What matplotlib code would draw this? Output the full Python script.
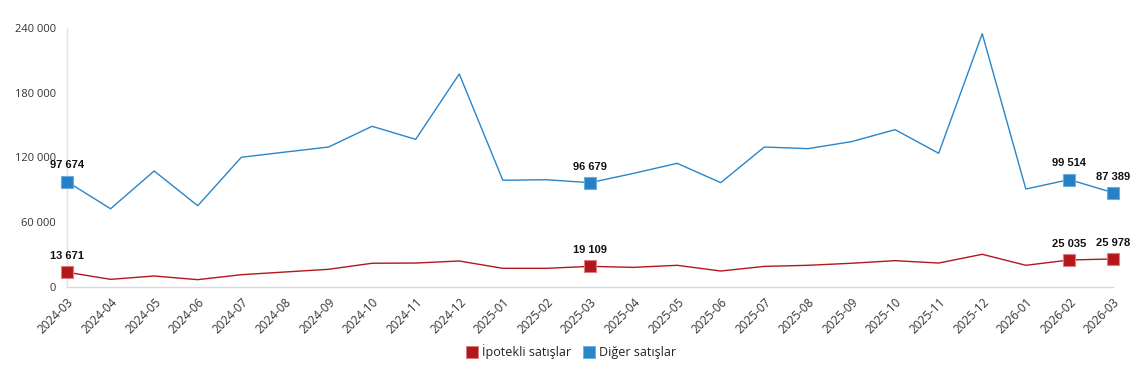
import numpy as np
import matplotlib
matplotlib.use("Agg")
import matplotlib.pyplot as plt
from matplotlib.lines import Line2D
from matplotlib.ticker import FuncFormatter

months = ["2024-03", "2024-04", "2024-05", "2024-06", "2024-07", "2024-08", "2024-09",
          "2024-10", "2024-11", "2024-12", "2025-01", "2025-02", "2025-03", "2025-04",
          "2025-05", "2025-06", "2025-07", "2025-08", "2025-09", "2025-10", "2025-11",
          "2025-12", "2026-01", "2026-02", "2026-03"]

# ipotekli satislar
ipotekli = [13671, 7100, 10200, 6800, 11400, 13900, 16400, 22000, 22200, 24100, 17300,
            17300, 19109, 18200, 20100, 14800, 19100, 20100, 22000, 24400, 22200, 30300,
            20100, 25035, 25978]
# diger satislar
diger = [97674, 72500, 107500, 75300, 120200, 125000, 129700, 148900, 136800, 197400,
         98900, 99400, 96679, 105300, 114600, 96700, 129700, 128200, 134700, 145800,
         123900, 234700, 90800, 99514, 87389]

labeled = [0, 12, 23, 24]

red = "#b3171b"
blue = "#2a85c9"

fig = plt.figure(figsize=(11.42, 3.83), dpi=100)
ax = fig.add_axes([67 / 1142, 1 - 287 / 383, (1113 - 67) / 1142, (287 - 28) / 383])

x = np.arange(len(months))
ax.plot(x, diger, color=blue, lw=1.0, marker="s", markevery=labeled, ms=9,
        mfc="#2580c5", mec="#6aaee0", mew=0.8, clip_on=False, zorder=3)
ax.plot(x, ipotekli, color=red, lw=1.0, marker="s", markevery=labeled, ms=9,
        mfc="#b3171b", mec="#dc7f80", mew=0.8, clip_on=False, zorder=3)

def fmt(v):
    return f"{int(v):,}".replace(",", " ")

for i in labeled:
    for s in (diger, ipotekli):
        ax.annotate(fmt(s[i]), (x[i], s[i]), xytext=(0, 8), textcoords="offset points",
                    ha="center", va="bottom", fontsize=8, fontweight="bold",
                    family="Liberation Sans", color="#111111")

ax.set_xlim(0, len(months) - 1)
ax.set_ylim(0, 240000)
ax.set_yticks([0, 60000, 120000, 180000, 240000])
ax.yaxis.set_major_formatter(FuncFormatter(lambda v, p: fmt(v)))
ax.set_xticks(x)
ax.set_xticklabels(months, rotation=45, ha="right", rotation_mode="anchor")

for lab in ax.get_yticklabels():
    lab.set_family("Open Sans")
    lab.set_fontsize(8)
    lab.set_color("#333333")
for lab in ax.get_xticklabels():
    lab.set_family("Open Sans")
    lab.set_fontsize(8.5)
    lab.set_color("#333333")

ax.tick_params(axis="y", length=0, pad=8)
ax.tick_params(axis="x", length=0, pad=6)
ax.spines["top"].set_visible(False)
ax.spines["right"].set_visible(False)
ax.spines["left"].set_color("#e3e3ef")
ax.spines["bottom"].set_color("#d9d9d9")
ax.spines["left"].set_linewidth(1)
ax.spines["bottom"].set_linewidth(1)

handles = [
    Line2D([], [], ls="none", marker="s", ms=9, mfc=red, mec="#d87a7c", mew=0.6, label="İpotekli satışlar"),
    Line2D([], [], ls="none", marker="s", ms=9, mfc=blue, mec="#6aaee0", mew=0.6, label="Diğer satışlar"),
]
leg = fig.legend(handles=handles, loc="center", bbox_to_anchor=(0.5, 1 - 352 / 383), ncol=2,
                 frameon=False, prop={"family": "Open Sans", "size": 9},
                 handletextpad=0.3, columnspacing=0.9, handlelength=1.0)
for t in leg.get_texts():
    t.set_color("#222222")

fig.savefig("out.png", dpi=100)
